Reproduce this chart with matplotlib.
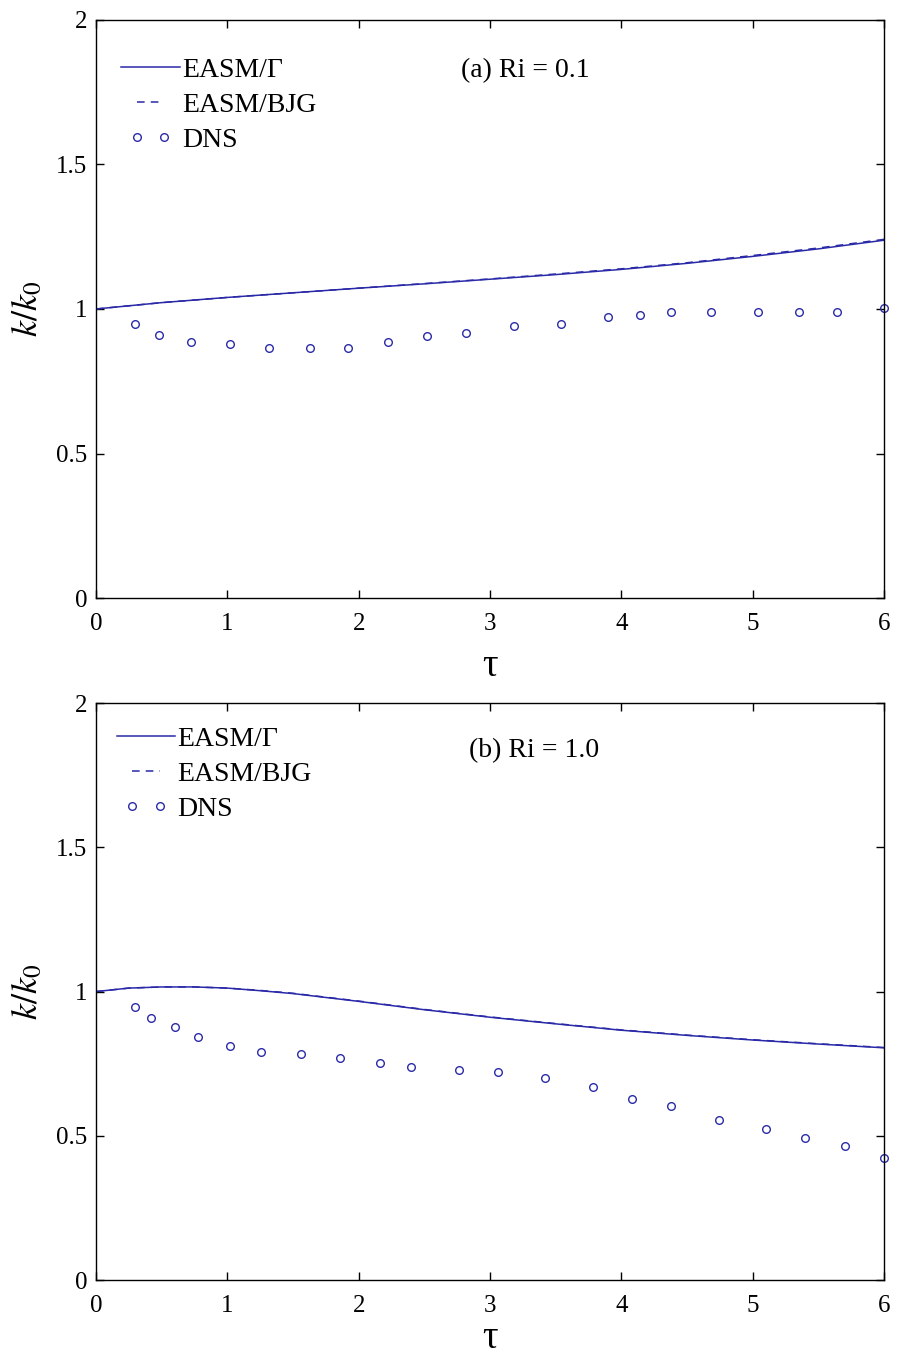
import numpy as np
import matplotlib
matplotlib.use("Agg")
import matplotlib.pyplot as plt
from matplotlib.legend_handler import HandlerLine2D

plt.rcParams["font.family"] = ["Liberation Serif", "DejaVu Serif"]
plt.rcParams["mathtext.fontset"] = "stix"

BLUE = "#2a2aa8"

# (a) Ri = 0.1
tau_a = [0, 0.5, 1, 1.5, 2, 2.5, 3, 3.5, 4, 4.5, 5, 5.5, 6]
gamma_a = [1.0, 1.022, 1.040, 1.056, 1.072, 1.087, 1.103, 1.119, 1.137, 1.158, 1.182, 1.208, 1.238]
bjg_a = [1.0, 1.022, 1.040, 1.056, 1.072, 1.088, 1.104, 1.121, 1.139, 1.160, 1.185, 1.211, 1.241]
dns_tau_a = [0.30, 0.48, 0.72, 1.02, 1.32, 1.63, 1.92, 2.22, 2.52, 2.82, 3.18, 3.54,
             3.90, 4.14, 4.38, 4.68, 5.04, 5.35, 5.64, 6.0]
dns_a = [0.949, 0.909, 0.887, 0.878, 0.864, 0.864, 0.864, 0.887, 0.908, 0.918, 0.940, 0.949,
         0.971, 0.980, 0.988, 0.988, 0.988, 0.988, 0.988, 1.002]

# (b) Ri = 1.0
tau_b = [0, 0.25, 0.5, 0.75, 1.0, 1.25, 1.5, 2, 2.5, 3, 3.5, 4, 4.5, 5, 5.5, 6]
gamma_b = [1.0, 1.012, 1.016, 1.016, 1.012, 1.003, 0.993, 0.966, 0.937, 0.911, 0.888,
           0.866, 0.848, 0.832, 0.818, 0.805]
bjg_b = [1.0, 1.012, 1.016, 1.016, 1.012, 1.004, 0.994, 0.967, 0.938, 0.912, 0.889,
         0.867, 0.849, 0.833, 0.819, 0.806]
dns_tau_b = [0.30, 0.42, 0.60, 0.78, 1.02, 1.26, 1.56, 1.86, 2.16, 2.40, 2.76, 3.06,
             3.42, 3.78, 4.08, 4.38, 4.74, 5.10, 5.40, 5.70, 6.0]
dns_b = [0.948, 0.908, 0.877, 0.844, 0.813, 0.792, 0.782, 0.769, 0.751, 0.738, 0.729, 0.721,
         0.699, 0.668, 0.627, 0.604, 0.556, 0.525, 0.494, 0.464, 0.423]

fig = plt.figure(figsize=(9.05, 13.57), dpi=100)
ax_a = fig.add_axes([0.106, 0.5593, 0.871, 0.426])
ax_b = fig.add_axes([0.106, 0.0567, 0.871, 0.4252])

panels = [
    (ax_a, tau_a, gamma_a, bjg_a, dns_tau_a, dns_a, "(a) Ri = 0.1", (0.463, 0.913), (0.011, 0.964), 9),
    (ax_b, tau_b, gamma_b, bjg_b, dns_tau_b, dns_b, "(b) Ri = 1.0", (0.473, 0.918), (0.005, 0.988), 2),
]

for ax, t, g, b, dt, d, title, tpos, lpos, xpad in panels:
    l1, = ax.plot(t, g, color=BLUE, lw=1.1, label="EASM/Γ")
    l2, = ax.plot(t, b, color=BLUE, lw=1.1, ls=(0, (5, 4)), label="EASM/BJG")
    l3, = ax.plot(dt, d, ls="none", marker="o", ms=5.5, mfc="none", mec=BLUE, mew=1.0,
                  label="DNS", clip_on=False)
    ax.set_xlim(0, 6)
    ax.set_ylim(0, 2)
    ax.set_xticks(range(7))
    ax.set_yticks([0, 0.5, 1, 1.5, 2])
    ax.set_yticklabels(["0", "0.5", "1", "1.5", "2"])
    ax.tick_params(direction="in", length=6, width=1, top=True, right=True, labelsize=18)
    ax.tick_params(axis="x", pad=11)
    ax.tick_params(axis="y", pad=6)
    for sp in ax.spines.values():
        sp.set_linewidth(1.0)
    ax.set_xlabel("τ", fontsize=28, labelpad=xpad)
    ax.set_ylabel(r"$k/k_0$", fontsize=26, labelpad=8)
    ax.text(tpos[0], tpos[1], title, transform=ax.transAxes, fontsize=20, ha="left", va="center")
    ax.legend(handles=[l1, l2, l3], loc="upper left", bbox_to_anchor=lpos, frameon=False,
              fontsize=20, handlelength=2.1, handletextpad=0.1, labelspacing=0.34,
              borderaxespad=0.2,
              handler_map={l1: HandlerLine2D(numpoints=2, marker_pad=0.0),
                           l2: HandlerLine2D(numpoints=2, marker_pad=0.55),
                           l3: HandlerLine2D(numpoints=2, marker_pad=0.55)})

fig.savefig("out.png", dpi=100)
